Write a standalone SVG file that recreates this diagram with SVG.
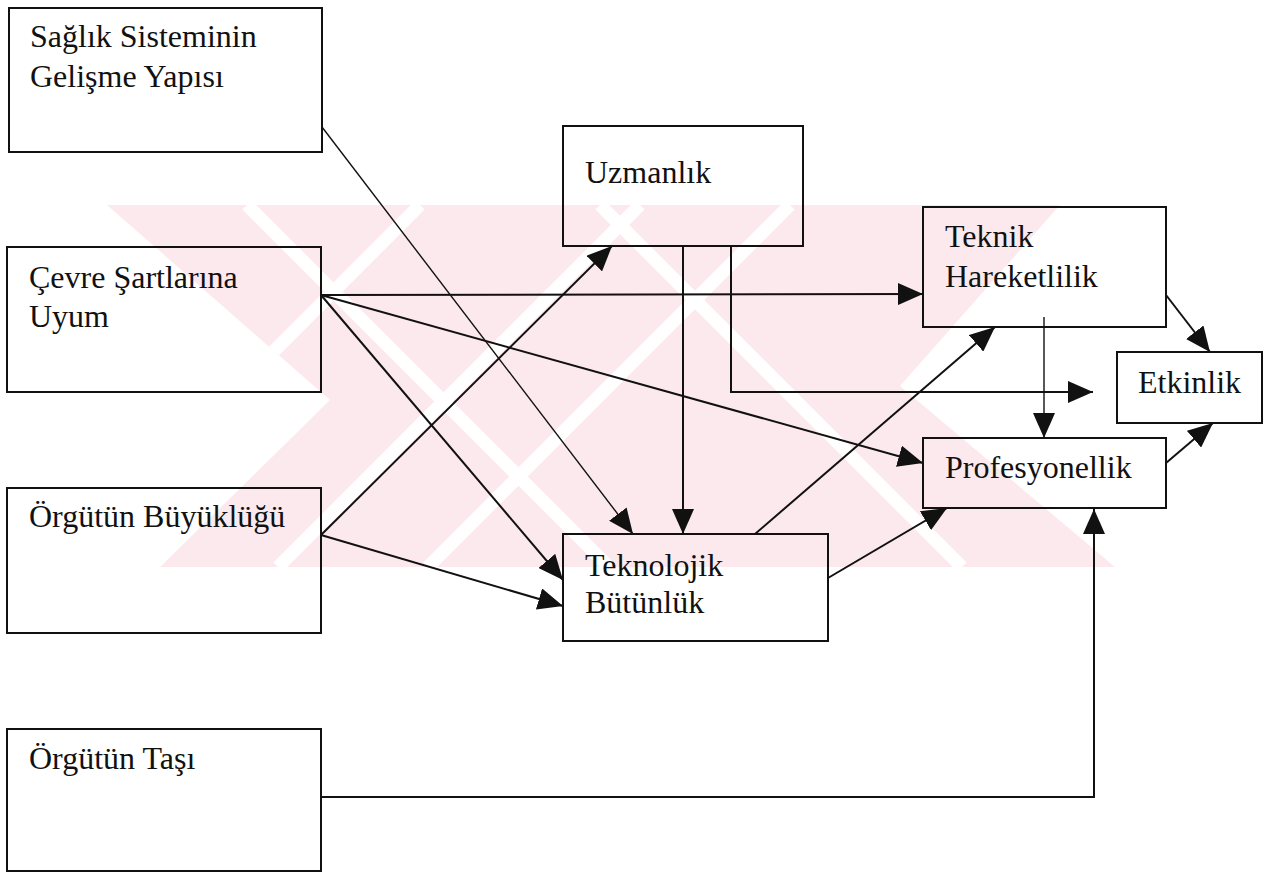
<svg xmlns="http://www.w3.org/2000/svg" width="1272" height="875" viewBox="0 0 1272 875">
  <style>
    .box { fill: none; stroke: #111; stroke-width: 2; }
    .lbl { font-family: "Liberation Serif", "Times New Roman", serif; font-size: 32px; fill: #111; }
    .edge { fill: none; stroke: #111; stroke-width: 2; marker-end: url(#arrow); }
    .thin { stroke-width: 1.4; }
    .wm { fill: #fce9ed; }
    .wm-gap { stroke: #fff; stroke-width: 13; }
  </style>
  <defs>
    <marker id="arrow" markerUnits="userSpaceOnUse" markerWidth="25" markerHeight="22" refX="25" refY="11" orient="auto">
      <path d="M0,0 L25,11 L0,22 z" fill="#111"/>
    </marker>
    <clipPath id="wm-clip">
      <polygon points="107,205 1060,205 900,386 1115,567 160,567 330,400"/>
    </clipPath>
  </defs>

  <rect width="1272" height="875" fill="#fff"/>

  <!-- faint striped background mark -->
  <g id="backdrop" clip-path="url(#wm-clip)">
    <rect class="wm" x="100" y="205" width="1020" height="362"/>
    <g class="wm-gap">
      <line x1="247" y1="205" x2="609" y2="567"/>
      <line x1="600" y1="205" x2="962" y2="567"/>
      <line x1="420" y1="205" x2="58" y2="567"/>
      <line x1="640" y1="205" x2="278" y2="567"/>
      <line x1="790" y1="205" x2="428" y2="567"/>
    </g>
  </g>

  <!-- connectors -->
  <g id="connectors">
    <line class="edge thin" x1="322" y1="127" x2="633" y2="534"/>
    <line class="edge" x1="321" y1="295" x2="923" y2="294"/>
    <line class="edge" x1="321" y1="295" x2="923" y2="463"/>
    <line class="edge" x1="321" y1="295" x2="563" y2="580"/>
    <line class="edge" x1="321" y1="535" x2="612" y2="246"/>
    <line class="edge" x1="321" y1="535" x2="563" y2="606"/>
    <line class="edge" x1="683" y1="246" x2="683" y2="534"/>
    <polyline class="edge" points="731,246 731,392 1093,392"/>
    <line class="edge" x1="755" y1="534" x2="995" y2="327"/>
    <line class="edge" x1="828" y1="578" x2="947" y2="508"/>
    <line class="edge thin" x1="1044" y1="317" x2="1044" y2="438"/>
    <line class="edge" x1="1166" y1="295" x2="1210" y2="352"/>
    <line class="edge" x1="1166" y1="463" x2="1213" y2="423"/>
    <polyline class="edge" points="321,797 1094,797 1094,509"/>
  </g>

  <!-- nodes -->
  <g id="saglik">
    <rect class="box" x="9" y="8" width="313" height="144"/>
    <text class="lbl" x="30" y="47">Sağlık Sisteminin<tspan x="30" y="87">Gelişme Yapısı</tspan></text>
  </g>
  <g id="cevre">
    <rect class="box" x="7" y="247" width="314" height="145"/>
    <text class="lbl" x="29" y="288">Çevre Şartlarına<tspan x="29" y="327">Uyum</tspan></text>
  </g>
  <g id="buyukluk">
    <rect class="box" x="7" y="488" width="314" height="145"/>
    <text class="lbl" x="29" y="527">Örgütün Büyüklüğü</text>
  </g>
  <g id="tasi">
    <rect class="box" x="7" y="729" width="314" height="142"/>
    <text class="lbl" x="29" y="769">Örgütün Taşı</text>
  </g>
  <g id="uzmanlik">
    <rect class="box" x="563" y="126" width="240" height="120"/>
    <text class="lbl" x="585" y="183">Uzmanlık</text>
  </g>
  <g id="teknolojik">
    <rect class="box" x="563" y="534" width="265" height="107"/>
    <text class="lbl" x="585" y="576">Teknolojik<tspan x="585" y="613">Bütünlük</tspan></text>
  </g>
  <g id="teknik">
    <rect class="box" x="923" y="207" width="243" height="120"/>
    <text class="lbl" x="945" y="247">Teknik<tspan x="945" y="287">Hareketlilik</tspan></text>
  </g>
  <g id="etkinlik">
    <rect class="box" x="1117" y="352" width="145" height="71"/>
    <text class="lbl" x="1138" y="393">Etkinlik</text>
  </g>
  <g id="profesyonellik">
    <rect class="box" x="923" y="438" width="243" height="70"/>
    <text class="lbl" x="945" y="478">Profesyonellik</text>
  </g>
</svg>
